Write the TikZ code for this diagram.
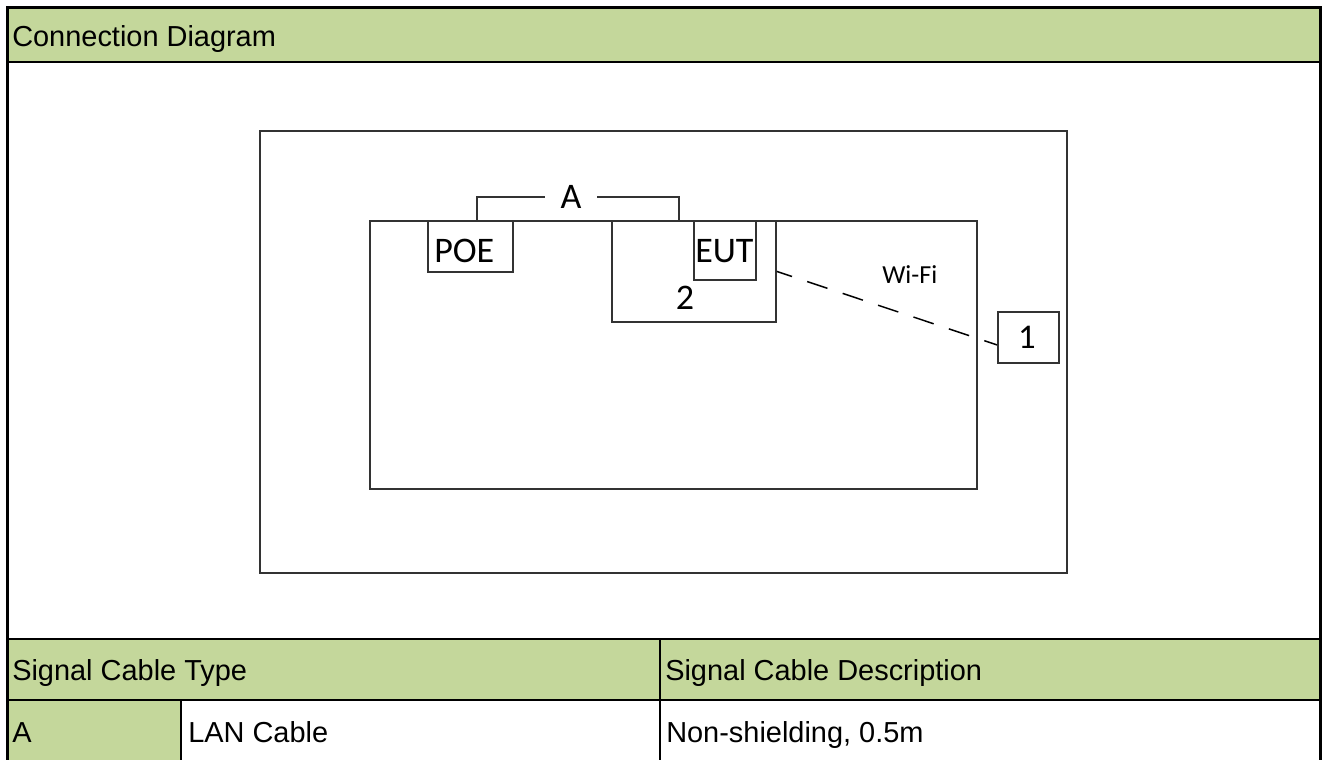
\documentclass[tikz,border=0pt]{standalone}
\usepackage{fontspec}
\setmainfont{Liberation Sans}
\newfontfamily\diagfont{Carlito}
\usetikzlibrary{calc}
\definecolor{hdrgreen}{RGB}{196,215,155}
\definecolor{lineg}{RGB}{51,51,51}
\begin{document}
\begin{tikzpicture}[x=0.75pt,y=-0.75pt,
  tabtext/.style={anchor=base west, inner sep=0, font=\fontsize{21.7}{24}\selectfont},
  frameline/.style={draw=black, line width=2.4pt},
  gridline/.style={draw=black, line width=1.6pt},
  part/.style={draw=lineg, line width=1.4pt, inner sep=0, anchor=north west},
  cable/.style={draw=lineg, line width=1.4pt},
  wifi/.style={draw=black, line width=1.1pt, dash pattern=on 16pt off 12pt, dash phase=4pt},
  dlabel/.style={font=\diagfont\fontsize{27}{30}\selectfont, inner sep=0, anchor=base, text=black},
]
\useasboundingbox (0,0) rectangle (1322,760);
% green cells
\fill[hdrgreen] (7,7) rectangle (1320,62);
\fill[hdrgreen] (7,639) rectangle (1320,700);
\fill[hdrgreen] (7,700) rectangle (181,760);
% table lines
\draw[gridline] (7,62) -- (1320,62);
\draw[gridline] (7,639) -- (1320,639);
\draw[gridline] (7,700) -- (1320,700);
\draw[gridline] (181,700) -- (181,762);
\draw[gridline] (660,639) -- (660,762);
% outer frame
\draw[frameline] (7.5,762) -- (7.5,7.5) -- (1320.3,7.5) -- (1320.3,762);
% table texts
\node[tabtext] (title) at (12,46) {Connection Diagram};
\node[tabtext] (colA) at (12,680) {Signal Cable Type};
\node[tabtext] (colB) at (665,680) {Signal Cable Description};
\node[tabtext] (rowA) at (12,742) {A};
\node[tabtext] (rowType) at (188,742) {LAN Cable};
\node[tabtext] (rowDesc) at (666,742) {Non-shielding, 0.5m};
% diagram boxes
\node[part, minimum width=605.25pt, minimum height=331.5pt] (room) at (259,130) {};
\node[part, minimum width=455.25pt, minimum height=201pt] (tbl) at (369,220) {};
\node[part, minimum width=63.75pt, minimum height=38.25pt] (poe) at (427,220) {};
\node[part, minimum width=123pt, minimum height=75.75pt] (box2) at (611,220) {};
\node[part, minimum width=46.5pt, minimum height=44.25pt] (eut) at (693,220) {};
\node[part, minimum width=45.75pt, minimum height=38.25pt] (b1) at (997,311) {};
% diagram labels
\node[dlabel, anchor=base west] (poetxt) at (434,262) {POE};
\node[dlabel, anchor=base west] (euttxt) at (695,262) {EUT};
\node[dlabel] (two) at (685,309) {2};
\node[dlabel, font=\diagfont\fontsize{26}{28}\selectfont] (one) at (1027,348) {1};
\node[dlabel, anchor=base west, font=\diagfont\fontsize{19.5}{22}\selectfont] (wifitxt) at (882,283) {Wi-Fi};
\node[font=\diagfont\fontsize{27}{30}\selectfont, inner sep=0, minimum width=39pt, minimum height=20pt] (alab) at (571,197) {A};
% cable A
\draw[cable] ($(poe.north west)+(50,0)$) |- (alab.west);
\draw[cable] (alab.east) -| ($(eut.north west)+(-14,0)$);
% Wi-Fi link
\draw[wifi] (box2.east) -- ($(b1.west)+(0,7.5)$);
\end{tikzpicture}
\end{document}
